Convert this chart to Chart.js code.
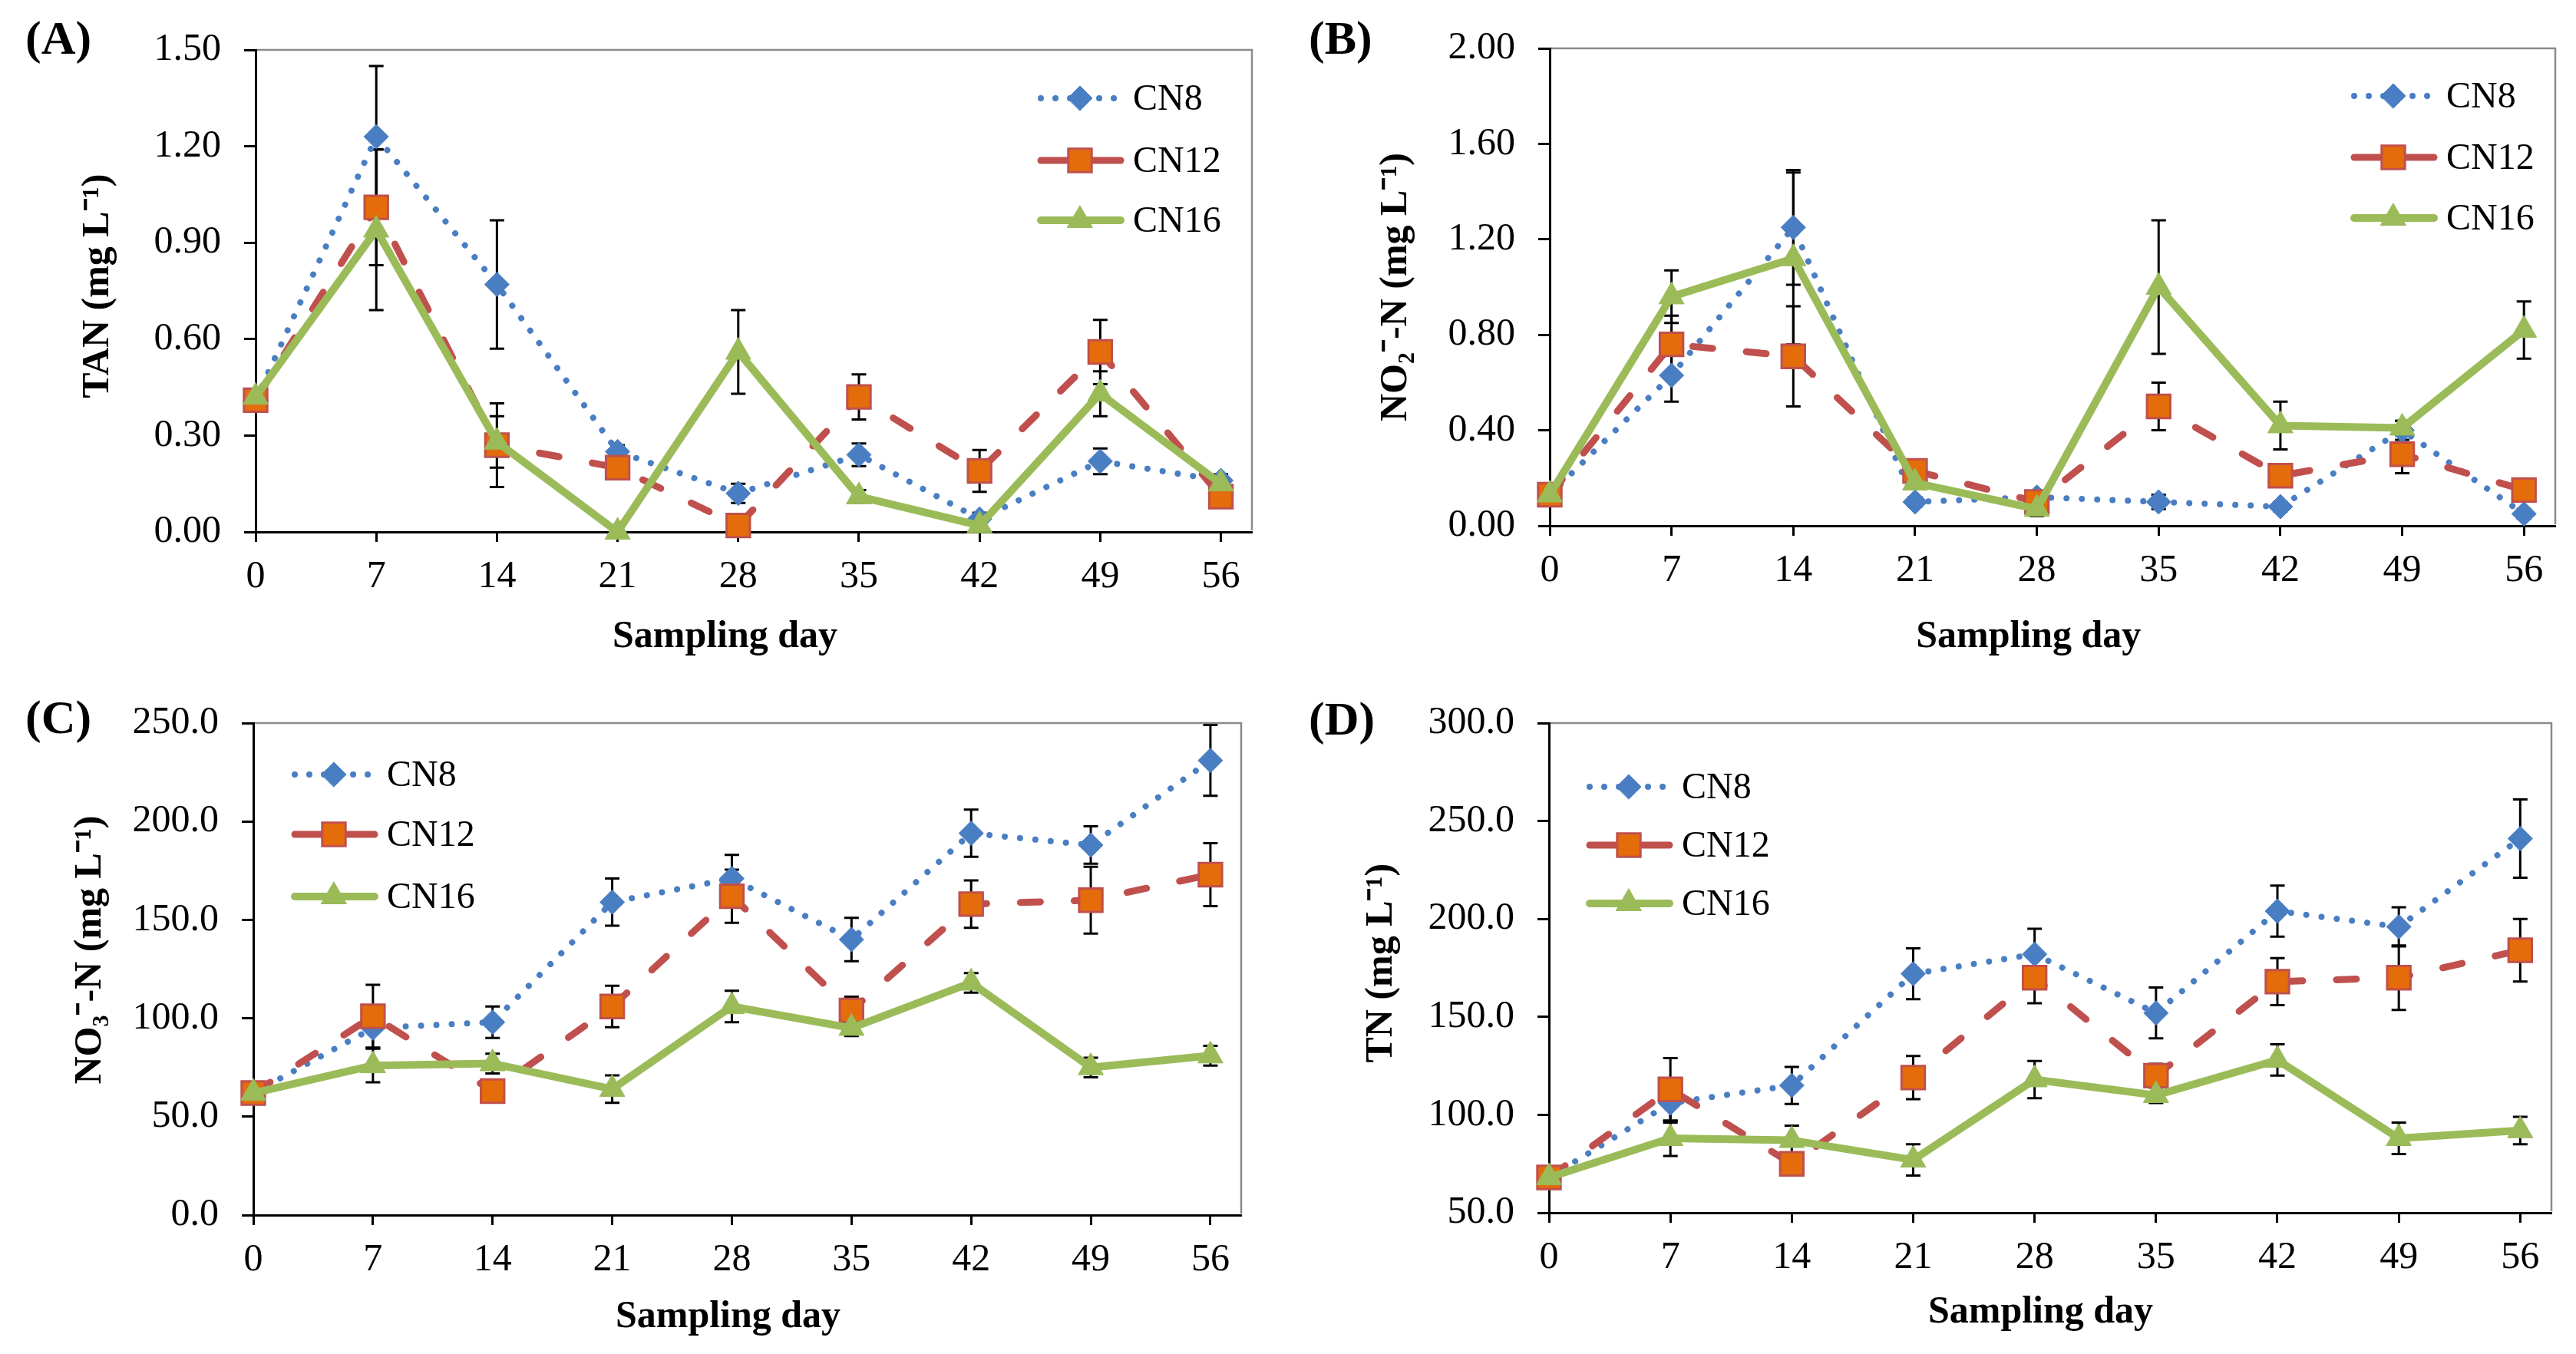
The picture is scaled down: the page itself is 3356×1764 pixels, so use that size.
<!DOCTYPE html>
<html><head><meta charset="utf-8">
<script src="https://cdn.jsdelivr.net/npm/chart.js@4.4.1/dist/chart.umd.min.js"></script>
<style>
html,body{margin:0;padding:0;background:#fff;}
body{width:3356px;height:1764px;position:relative;overflow:hidden;}
.panel{position:absolute;width:1678px;height:882px;}
.panel canvas{position:absolute;left:0;top:0;}
.plabel{position:absolute;font:bold 62px 'Liberation Serif','Times New Roman',serif;line-height:62px;color:#000;white-space:nowrap;}
</style></head><body>
<div class="panel" style="left:0;top:0"><canvas id="cA" width="1678" height="882"></canvas><div class="plabel" style="left:33px;top:18px">(A)</div></div>
<div class="panel" style="left:1678px;top:0"><canvas id="cB" width="1678" height="882"></canvas><div class="plabel" style="left:27px;top:18px">(B)</div></div>
<div class="panel" style="left:0;top:882px"><canvas id="cC" width="1678" height="882"></canvas><div class="plabel" style="left:33px;top:21px">(C)</div></div>
<div class="panel" style="left:1678px;top:882px"><canvas id="cD" width="1678" height="882"></canvas><div class="plabel" style="left:27px;top:23px">(D)</div></div>
<script>
// ---------------- data ----------------
const days = [0, 7, 14, 21, 28, 35, 42, 49, 56];
const dayTicks = [0, 7, 14, 21, 28, 35, 42, 49, 56];
const seriesNames = ['CN8', 'CN12', 'CN16'];

// (A) TAN
const tanTicks = [0, 0.3, 0.6, 0.9, 1.2, 1.5];
const tanCN8  = [0.41, 1.23, 0.77, 0.25, 0.12, 0.24, 0.04, 0.22, 0.16];
const tanCN8Err  = [0.02, 0.22, 0.20, 0.02, 0.03, 0.035, 0.02, 0.04, 0.02];
const tanCN12 = [0.41, 1.01, 0.27, 0.20, 0.02, 0.42, 0.19, 0.56, 0.11];
const tanCN12Err = [0.02, 0.18, 0.13, 0.03, 0.02, 0.07, 0.065, 0.10, 0.02];
const tanCN16 = [0.42, 0.94, 0.28, 0.00, 0.56, 0.11, 0.02, 0.43, 0.15];
const tanCN16Err = [0.02, 0.25, 0.08, 0.0, 0.13, 0.02, 0.01, 0.07, 0.02];

// (B) NO2-N
const no2Ticks = [0, 0.4, 0.8, 1.2, 1.6, 2.0];
const no2CN8  = [0.13, 0.63, 1.25, 0.10, 0.12, 0.10, 0.08, 0.40, 0.05];
const no2CN8Err  = [0.02, 0.11, 0.24, 0.02, 0.02, 0.03, 0.02, 0.04, 0.02];
const no2CN12 = [0.13, 0.76, 0.71, 0.23, 0.10, 0.50, 0.21, 0.30, 0.15];
const no2CN12Err = [0.02, 0.12, 0.21, 0.03, 0.02, 0.10, 0.03, 0.08, 0.02];
const no2CN16 = [0.13, 0.96, 1.12, 0.18, 0.07, 1.00, 0.42, 0.41, 0.82];
const no2CN16Err = [0.02, 0.11, 0.36, 0.02, 0.03, 0.28, 0.10, 0.03, 0.12];

// (C) NO3-N
const no3Ticks = [0, 50, 100, 150, 200, 250];
const no3CN8  = [62, 95, 98, 159, 171, 140, 194, 188, 231];
const no3CN8Err  = [3, 10, 8, 12, 12, 11, 12, 9.5, 18];
const no3CN12 = [62, 101, 63, 106, 162, 104, 158, 160, 173];
const no3CN12Err = [3, 16, 5, 10.5, 13.5, 7, 12, 17, 16];
const no3CN16 = [62, 76, 77, 64, 106, 95, 118, 75, 81];
const no3CN16Err = [3, 8.5, 5, 7, 8, 4, 5, 5, 5];

// (D) TN
const tnTicks = [50, 100, 150, 200, 250, 300];
const tnCN8  = [68, 106, 115, 172, 182, 152, 204, 196, 241];
const tnCN8Err  = [3, 10, 9.5, 13, 13, 13, 13, 10, 20];
const tnCN12 = [68, 113, 75, 119, 170, 120, 168, 170, 184];
const tnCN12Err = [3, 16, 5, 11, 13, 6, 12, 16.5, 16];
const tnCN16 = [68, 88, 87, 77, 118, 110, 128, 88, 92];
const tnCN16Err = [3, 9, 7.5, 8, 9.5, 4, 8, 8, 7];

// ---------------- styles ----------------
const SERIF = "'Liberation Serif','Times New Roman',serif";
const seriesStyles = [
  {borderColor:'#4A7EC3', borderWidth:8, borderDash:[0.01,20], borderCapStyle:'round',
   pointStyle:'rectRot', pointRadius:16, pointBorderWidth:1, pointBorderColor:'#4A7EC3', pointBackgroundColor:'#4A7EC3', order:3},
  {borderColor:'#C0504D', borderWidth:9, borderDash:[26,44], borderCapStyle:'round',
   pointStyle:'rect', pointRadius:21.5, pointBorderWidth:3, pointBorderColor:'#C0504D', pointBackgroundColor:'#E46C0A', order:2},
  {borderColor:'#9BBB59', borderWidth:10, borderDash:[], borderCapStyle:'round',
   pointStyle:'triangle', pointRadius:19, pointBorderWidth:1, pointBorderColor:'#9BBB59', pointBackgroundColor:'#9BBB59', order:1}
];

function drawMarker(ctx, style, x, y) {
  const r = style.pointRadius;
  ctx.save();
  ctx.beginPath();
  if (style.pointStyle === 'rectRot') {
    ctx.moveTo(x - r, y); ctx.lineTo(x, y - r); ctx.lineTo(x + r, y); ctx.lineTo(x, y + r);
  } else if (style.pointStyle === 'rect') {
    const s = Math.SQRT1_2 * r; ctx.rect(x - s, y - s, 2 * s, 2 * s);
  } else {
    for (let k = 0; k < 3; k++) {
      const a = k * 2 * Math.PI / 3;
      const px = x + Math.sin(a) * r, py = y - Math.cos(a) * r;
      if (k === 0) ctx.moveTo(px, py); else ctx.lineTo(px, py);
    }
  }
  ctx.closePath();
  ctx.fillStyle = style.pointBackgroundColor; ctx.fill();
  ctx.lineWidth = style.pointBorderWidth; ctx.strokeStyle = style.pointBorderColor; ctx.setLineDash([]); ctx.stroke();
  ctx.restore();
}

const errorBarPlugin = {
  id: 'errorBars',
  beforeDatasetsDraw(chart) {
    const ctx = chart.ctx, xs = chart.scales.x, ys = chart.scales.y;
    ctx.save();
    ctx.strokeStyle = '#000'; ctx.lineWidth = 3; ctx.setLineDash([]);
    chart.data.datasets.forEach(ds => {
      ds.data.forEach((p, i) => {
        const e = ds.errors[i];
        if (!e) return;
        const x = xs.getPixelForValue(p.x);
        const y1 = ys.getPixelForValue(p.y + e), y2 = ys.getPixelForValue(Math.max(p.y - e, ys.min));
        ctx.beginPath();
        ctx.moveTo(x, y1); ctx.lineTo(x, y2);
        ctx.moveTo(x - 9.5, y1); ctx.lineTo(x + 9.5, y1);
        ctx.moveTo(x - 9.5, y2); ctx.lineTo(x + 9.5, y2);
        ctx.stroke();
      });
    });
    ctx.restore();
  }
};

const framePlugin = {
  id: 'frame',
  afterDraw(chart) {
    const {left, right, top, bottom} = chart.chartArea, ctx = chart.ctx;
    ctx.save();
    ctx.strokeStyle = '#8a8a8a'; ctx.lineWidth = 2.5; ctx.setLineDash([]);
    ctx.beginPath();
    ctx.moveTo(left + 2, top); ctx.lineTo(right, top); ctx.lineTo(right, bottom - 2);
    ctx.stroke();
    ctx.restore();
  }
};

const legendPlugin = {
  id: 'boxLegend',
  afterDraw(chart, args, opts) {
    const ctx = chart.ctx;
    ctx.save();
    chart.data.datasets.forEach((ds, i) => {
      const st = seriesStyles[i];
      const y = opts.rows[i], tx = opts.textX;
      ctx.beginPath();
      ctx.strokeStyle = st.borderColor; ctx.lineWidth = st.borderWidth; ctx.lineCap = 'round';
      ctx.setLineDash(i === 0 ? [0.01, 19] : []);
      ctx.moveTo(tx - 120, y); ctx.lineTo(tx - 16, y);
      ctx.stroke();
      ctx.setLineDash([]);
      drawMarker(ctx, st, tx - 69, y);
      ctx.fillStyle = '#000';
      ctx.font = '48px ' + SERIF;
      ctx.textBaseline = 'middle'; ctx.textAlign = 'left';
      ctx.fillText(ds.label, tx, y + 2);
    });
    ctx.restore();
  }
};

function makeChart(id, p) {
  const datasets = p.series.map((vals, i) => {
    const st = seriesStyles[i];
    return {
      label: seriesNames[i],
      data: days.map((d, k) => ({x: d, y: vals[k]})),
      errors: p.errors[i],
      borderColor: st.borderColor, backgroundColor: st.pointBackgroundColor,
      borderWidth: st.borderWidth, borderDash: st.borderDash, borderCapStyle: st.borderCapStyle,
      borderJoinStyle: 'round',
      pointStyle: st.pointStyle, pointRadius: st.pointRadius, pointHoverRadius: st.pointRadius,
      pointBorderWidth: st.pointBorderWidth, pointBorderColor: st.pointBorderColor,
      pointBackgroundColor: st.pointBackgroundColor,
      tension: 0, fill: false, clip: false, order: st.order
    };
  });
  return new Chart(document.getElementById(id), {
    type: 'line',
    data: {datasets},
    options: {
      responsive: false, animation: false, devicePixelRatio: 1, events: [],
      layout: {padding: {left: 0, top: p.area.top, right: 1678 - p.area.right, bottom: 0}},
      plugins: {legend: {display: false}, tooltip: {enabled: false},
        boxLegend: {textX: p.legendX, rows: p.legendRows}},
      scales: {
        x: {
          type: 'linear', min: 0, max: 57.8,
          afterBuildTicks: s => { s.ticks = dayTicks.map(v => ({value: v})); },
          afterFit: s => { s.height = 882 - p.area.bottom; },
          grid: {display: true, drawOnChartArea: false, drawTicks: true, tickLength: 13, tickWidth: 3, tickColor: '#000'},
          border: {display: true, color: '#000', width: 3},
          ticks: {autoSkip: false, maxRotation: 0, minRotation: 0, padding: 16, color: '#000',
                  font: {family: SERIF, size: 50}, callback: v => String(v)},
          title: {display: true, text: p.xTitle, color: '#000',
                  font: {family: SERIF, size: 50, weight: 'bold', lineHeight: 1.2},
                  padding: {top: 0, bottom: p.xTitlePad}}
        },
        y: {
          type: 'linear', min: p.yTicks[0], max: p.yTicks[p.yTicks.length - 1],
          afterBuildTicks: s => { s.ticks = p.yTicks.map(v => ({value: v})); },
          afterFit: s => { s.width = p.area.left; },
          grid: {display: true, drawOnChartArea: false, drawTicks: true, tickLength: 15, tickWidth: 3, tickColor: '#000'},
          border: {display: true, color: '#000', width: 3},
          ticks: {autoSkip: false, padding: 30, color: '#000', font: {family: SERIF, size: 50},
                  callback: v => Number(v).toFixed(p.decimals)},
          title: {display: true, text: p.yTitle, color: '#000',
                  font: {family: SERIF, size: 50, weight: 'bold', lineHeight: 1.2},
                  padding: {top: p.yTitlePad, bottom: 0}}
        }
      }
    },
    plugins: [errorBarPlugin, framePlugin, legendPlugin]
  });
}

const NB = '\u00a0';
makeChart('cA', {
  series: [tanCN8, tanCN12, tanCN16], errors: [tanCN8Err, tanCN12Err, tanCN16Err],
  yTicks: tanTicks, decimals: 2,
  yTitle: NB + 'TAN (mg L\u207B\u00B9)', xTitle: 'Sampling day' + NB.repeat(6),
  area: {left: 333, top: 65, right: 1631, bottom: 693}, xTitlePad: 22, yTitlePad: 98,
  legendX: 1476, legendRows: [128, 209, 287]
});
makeChart('cB', {
  series: [no2CN8, no2CN12, no2CN16], errors: [no2CN8Err, no2CN12Err, no2CN16Err],
  yTicks: no2Ticks, decimals: 2,
  yTitle: 'NO\u2082\u207B-N (mg L\u207B\u00B9)', xTitle: 'Sampling day' + NB.repeat(5),
  area: {left: 341, top: 63, right: 1651, bottom: 685}, xTitlePad: 22, yTitlePad: 111,
  legendX: 1509, legendRows: [125, 205, 284]
});
makeChart('cC', {
  series: [no3CN8, no3CN12, no3CN16], errors: [no3CN8Err, no3CN12Err, no3CN16Err],
  yTicks: no3Ticks, decimals: 1,
  yTitle: NB.repeat(4) + 'NO\u2083\u207B-N (mg L\u207B\u00B9)', xTitle: 'Sampling day' + NB.repeat(4),
  area: {left: 330, top: 53, right: 1617, bottom: 701}, xTitlePad: 18, yTitlePad: 88,
  legendX: 504, legendRows: [127, 205, 286]
});
makeChart('cD', {
  series: [tnCN8, tnCN12, tnCN16], errors: [tnCN8Err, tnCN12Err, tnCN16Err],
  yTicks: tnTicks, decimals: 1,
  yTitle: NB + 'TN (mg L\u207B\u00B9)', xTitle: 'Sampling day' + NB.repeat(2),
  area: {left: 340, top: 50, right: 1646, bottom: 698}, xTitlePad: 24, yTitlePad: 92,
  legendX: 513, legendRows: [143, 219, 295]
});
</script>
</body></html>
